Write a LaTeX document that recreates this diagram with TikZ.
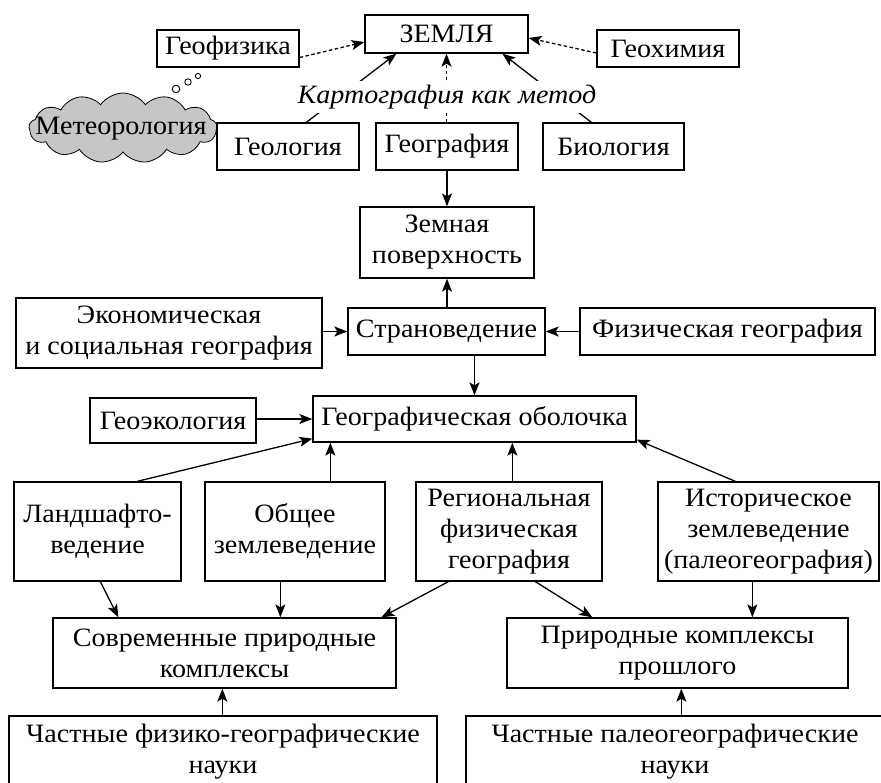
\documentclass[tikz,border=0pt]{standalone}
\usepackage{fontspec}
\setmainfont{Liberation Serif}[FakeStretch=1.06]
\usetikzlibrary{arrows.meta,shapes.symbols,calc}
\newcommand{\fs}{\fontsize{26.5}{31}\selectfont}
\tikzset{
  box/.style={draw, line width=1.3pt, inner sep=0pt, align=center, font=\fs},
  arr/.style={-{Stealth[length=13pt,width=10pt,inset=3pt]}, line width=1.3pt},
  darr/.style={arr, dash pattern=on 3.5pt off 2.5pt},
}
\newcommand{\bx}[6]{\node[box, minimum width={(#4-#2)*1pt}, minimum height={(#5-#3)*1pt}] (#1) at ({(#2+#4)/2},{(#3+#5)/2}) {#6};}
\begin{document}
\begin{tikzpicture}[x=1pt,y=-1pt]
\useasboundingbox (0,0) rectangle (881,782);
\clip (0,0) rectangle (881,782);
\fill[white] (0,0) rectangle (881,782);
% row 1
\bx{zemlya}{365}{15}{528}{53}{ЗЕМЛЯ}
\bx{geofiz}{157}{30}{299}{67}{Геофизика}
\bx{geochim}{597}{30}{739}{67}{Геохимия}
% row 2
\node[cloud, cloud puffs=13, cloud puff arc=110, draw, fill=gray!45, line width=0.8pt,
      minimum width=188pt, minimum height=70pt, aspect=2.7, inner sep=0pt] (cloud) at (123,128) {};
\node[font=\fs, inner sep=0pt] (meteo) at (121,129) {Метеорология};
\draw[line width=0.9pt, fill=white] (176,89) circle (3.8pt);
\draw[line width=0.9pt, fill=white] (188,82) circle (3.2pt);
\draw[line width=0.9pt, fill=white] (198,76) circle (2.6pt);
\bx{geol}{217}{123}{359}{170}{Геология}
\bx{geogr}{376}{123}{518}{170}{География}
\bx{biol}{543}{123}{684}{170}{Биология}
% row 3
\bx{zemn}{360}{207}{534}{278}{Земная\\поверхность}
% row 4
\bx{ekon}{16}{298}{322}{368}{Экономическая\\и социальная география}
\bx{strano}{348}{308}{545}{355}{Страноведение}
\bx{fiz}{580}{308}{875}{355}{Физическая география}
% row 5
\bx{geoek}{90}{398}{256}{443}{Геоэкология}
\bx{obol}{313}{396}{636}{442}{Географическая оболочка}
% row 6
\bx{landsh}{14}{482}{181}{581}{Ландшафто-\\ведение}
\bx{obshch}{205}{482}{385}{581}{Общее\\землеведение}
\bx{region}{416}{482}{602}{581}{Региональная\\физическая\\география}
\bx{istor}{658}{482}{879}{581}{Историческое\\землеведение\\(палеогеография)}
% row 7
\bx{sovrem}{53}{618}{396}{688}{Современные природные\\комплексы}
\bx{prosh}{507}{618}{848}{688}{Природные комплексы\\прошлого}
% row 8 (cut by the bottom edge)
\bx{chast1}{9}{716}{437}{800}{}
\bx{chast2}{466}{716}{895}{800}{}
\node[font=\fs, align=center, inner sep=0pt] (t1) at (223,752) {Частные физико-географические\\науки};
\node[font=\fs, align=center, inner sep=0pt] (t2) at (675,752) {Частные палеогеографические\\науки};
% connectors, top part
\draw[darr] ($(geofiz.east)+(0,9)$) -- ($(zemlya.west)+(0,8)$);
\draw[darr] ($(geochim.west)+(0,4.5)$) -- ($(zemlya.east)+(0,4)$);
\draw[arr] ($(geol.north west)+(90,0)$) -- ($(zemlya.south west)+(32,0)$);
\draw[arr] ($(biol.north west)+(49,0)$) -- ($(zemlya.south west)+(138,0)$);
\draw[darr] (geogr.north -| zemlya.south) -- (zemlya.south);
\node[font=\fs\itshape, fill=white, inner xsep=3pt, inner ysep=4pt] (kart) at (447,97) {Картография как метод};
\draw[arr] (geogr.south -| zemn.north) -- (zemn.north);
\draw[arr] (strano.north -| zemn.south) -- (zemn.south);
\draw[arr] (ekon.east |- strano.west) -- (strano.west);
\draw[arr] (fiz.west) -- (strano.east);
\draw[arr] (strano.south -| obol.north) -- (obol.north);
\draw[arr] (geoek.east |- obol.west) -- (obol.west);
% to the envelope
\draw[arr] ($(landsh.north west)+(124,0)$) -- ($(obol.south west)+(0,-4)$);
\draw[arr] ($(obshch.north west)+(126,0)$) -- ($(obol.south west)+(18,0)$);
\draw[arr] ($(region.north west)+(97,0)$) -- ($(obol.south west)+(200,0)$);
\draw[arr] ($(istor.north west)+(78,0)$) -- ($(obol.south east)+(0,-3)$);
% to the complexes
\draw[arr] ($(landsh.south west)+(87,0)$) -- ($(sovrem.north west)+(66,0)$);
\draw[arr] ($(obshch.south west)+(76,0)$) -- ($(sovrem.north west)+(228,0)$);
\draw[arr] ($(region.south west)+(33,0)$) -- ($(sovrem.north west)+(329,0)$);
\draw[arr] ($(region.south west)+(120,0)$) -- ($(prosh.north west)+(86,0)$);
\draw[arr] ($(istor.south west)+(95,0)$) -- ($(prosh.north west)+(246,0)$);
\draw[arr] ($(chast1.north west)+(214,0)$) -- ($(sovrem.south west)+(170,0)$);
\draw[arr] ($(chast2.north west)+(216,0)$) -- ($(prosh.south west)+(175,0)$);
\end{tikzpicture}
\end{document}
